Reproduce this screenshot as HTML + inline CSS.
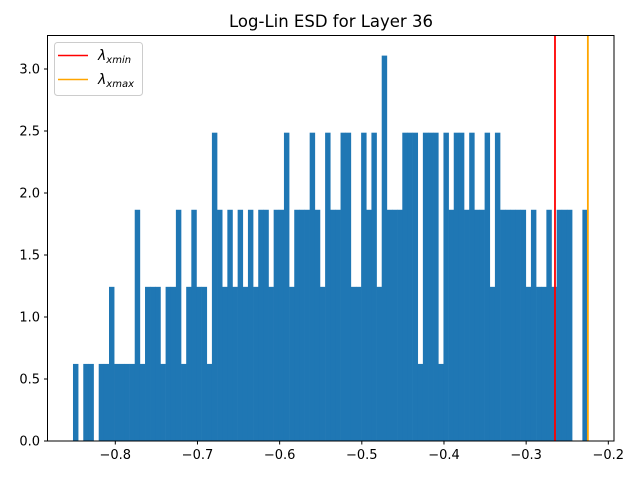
<!DOCTYPE html>
<html><head><meta charset="utf-8"><style>
body{margin:0;background:#fff;}
svg text{font-family:"DejaVu Sans","Liberation Sans",sans-serif;}
</style></head><body>
<svg id="chart" width="640" height="480" xmlns="http://www.w3.org/2000/svg">
<rect width="640" height="480" fill="#fff"/>
<text x="331" y="27" font-size="16.5" text-anchor="middle" fill="#000">Log-Lin ESD for Layer 36</text>
<g id="bars"></g>
<g id="vlines"></g>
<g id="xaxis"></g>
<g id="yaxis"></g>
<rect x="47.5" y="35.5" width="566.5" height="405.5" fill="none" stroke="#000" stroke-width="1"/>
<g>
<rect x="54.5" y="42.5" width="88" height="53" rx="3" fill="#fff" fill-opacity="0.8" stroke="#ccc"/>
<line x1="58" y1="55.5" x2="88" y2="55.5" stroke="#ff0000" stroke-width="1.5"/>
<text x="98" y="60" font-size="14" font-style="italic">λ<tspan font-size="10" dy="3">xmin</tspan></text>
<line x1="58" y1="79.5" x2="88" y2="79.5" stroke="#ffa500" stroke-width="1.5"/>
<text x="98" y="84" font-size="14" font-style="italic">λ<tspan font-size="10" dy="3">xmax</tspan></text>
</g>
</svg>
<script>
const binStart = -0.8515;
const binEnd = -0.2253;
const unit = 0.6216;
const counts = [1,0,1,1,0,1,1,2,1,1,1,1,3,1,2,2,2,1,2,2,3,1,2,3,2,2,1,4,3,2,
3,2,3,2,3,2,3,3,2,3,3,4,2,3,3,3,4,3,2,4,3,3,4,4,2,2,4,3,4,2,
5,3,3,3,4,4,4,1,4,4,4,1,4,3,4,4,3,4,3,3,4,2,4,3,3,3,3,3,2,3,
2,2,3,2,3,3,3,0,0,3];
const xTicks = [-0.8,-0.7,-0.6,-0.5,-0.4,-0.3,-0.2];
const yTicks = [0,0.5,1,1.5,2,2.5,3];
const xminVal = -0.2649;
const xmaxVal = -0.2249;
const NS='http://www.w3.org/2000/svg';
const X = v => 115.3 + (v + 0.8) * 821.7;
const Y = v => 441 - v * 124;
function mk(tag, attrs, parent){const e=document.createElementNS(NS,tag);for(const k in attrs)e.setAttribute(k,attrs[k]);parent.appendChild(e);return e;}
const bars=document.getElementById('bars');
const w=(binEnd-binStart)/counts.length;
counts.forEach((c,i)=>{
  if(!c) return;
  const x0=X(binStart+i*w), x1=X(binStart+(i+1)*w);
  const r=mk('rect',{x:x0,y:Y(c*unit),width:x1-x0+0.3,height:Y(0)-Y(c*unit),fill:'#1f77b4'},bars);
  
  
});
const vl=document.getElementById('vlines');
const l1=mk('line',{x1:X(xminVal),x2:X(xminVal),y1:35,y2:441,stroke:'#ff0000','stroke-width':1.8},vl);


const l2=mk('line',{x1:X(xmaxVal),x2:X(xmaxVal),y1:35,y2:441,stroke:'#ffa500','stroke-width':1.8},vl);


const xa=document.getElementById('xaxis');
xTicks.forEach(t=>{
  const x=X(t);
  const tk=mk('line',{x1:x,x2:x,y1:441,y2:444.5,stroke:'#000'},xa);
  
  
  const tx=mk('text',{x:x,y:459,'font-size':'13','text-anchor':'middle'},xa);
  
  
  tx.textContent=(t<0?'−':'')+Math.abs(t).toFixed(1);
});
const ya=document.getElementById('yaxis');
yTicks.forEach(t=>{
  const y=Y(t);
  const tk=mk('line',{x1:44,x2:47.5,y1:y,y2:y,stroke:'#000'},ya);
  
  
  const tx=mk('text',{x:40,y:y+4.5,'font-size':'13','text-anchor':'end'},ya);
  
  
  tx.textContent=t.toFixed(1);
});
</script>
</body></html>
